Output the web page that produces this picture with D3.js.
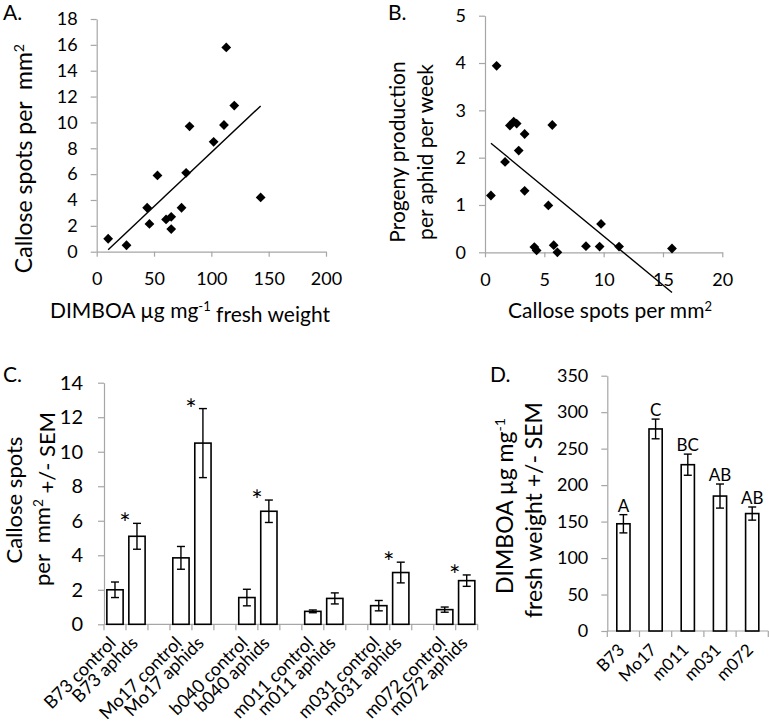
<!DOCTYPE html>
<html>
<head>
<meta charset="utf-8">
<script src="https://cdn.jsdelivr.net/npm/d3@7"></script>
<style>
body { margin: 0; background: #fff; }
text { font-family: Lato, "Open Sans", sans-serif; fill: #000; white-space: pre; }
</style>
</head>
<body>
<svg id="fig" width="769" height="724"></svg>
<script>
// A. DIMBOA vs callose spots
const dimboaA = [10, 26, 44, 46, 53, 60.5, 65, 65, 74, 78, 81, 102, 111, 113, 120, 143]
const calloseA = [1.0, 0.5, 3.4, 2.15, 5.9, 2.5, 2.7, 1.75, 3.4, 6.1, 9.7, 8.5, 9.8, 15.8, 11.3, 4.2]
const xTicksA = [0, 50, 100, 150, 200]
const yTicksA = [0, 2, 4, 6, 8, 10, 12, 14, 16, 18]

// B. callose spots vs progeny
const calloseB = [0.5, 0.98, 1.69, 2.1, 2.42, 2.67, 2.84, 3.34, 3.34, 4.16, 4.35, 5.34, 5.67, 5.79, 6.1, 8.51, 9.66, 9.78, 11.3, 15.76]
const progenyB = [1.2, 3.94, 1.91, 2.68, 2.76, 2.72, 2.15, 2.5, 1.3, 0.11, 0.04, 0.99, 2.69, 0.15, 0.0, 0.13, 0.12, 0.6, 0.12, 0.08]
const xTicksB = [0, 5, 10, 15, 20]
const yTicksB = [0, 1, 2, 3, 4, 5]

// C. callose spots per line / treatment ("" = gap between lines)
const catsC = ["B73 control", "B73 aphds", "", "Mo17 control", "Mo17 aphids", "", "b040 control", "b040 aphids", "",
               "m011 control", "m011 aphids", "", "m031 control", "m031 aphids", "", "m072 control", "m072 aphids"]
const meanC = [2.0, 5.1, null, 3.85, 10.5, null, 1.55, 6.55, null, 0.75, 1.5, null, 1.08, 3.0, null, 0.85, 2.53]
const semC  = [0.45, 0.75, null, 0.66, 2.0, null, 0.48, 0.65, null, 0.08, 0.32, null, 0.3, 0.6, null, 0.15, 0.33]
const sigC  = ["", "*", "", "", "*", "", "", "*", "", "", "", "", "", "*", "", "", "*"]
const yTicksC = [0, 2, 4, 6, 8, 10, 12, 14]

// D. DIMBOA per line
const catsD = ["B73", "Mo17", "m011", "m031", "m072"]
const meanD = [147, 277, 228, 185, 161]
const semD  = [12.5, 13.5, 14.5, 16.5, 9]
const groupD = ["A", "C", "BC", "AB", "AB"]
const yTicksD = [0, 50, 100, 150, 200, 250, 300, 350]

const svg = d3.select("#fig")
const axisGray = "#a6a6a6"
const fmt = d3.format("d")

function styleAxis(g, size) {
    g.selectAll("path.domain").attr("stroke", axisGray).attr("stroke-width", 1.2)
    g.selectAll(".tick line").attr("stroke", axisGray).attr("stroke-width", 1.2)
    g.selectAll(".tick text").attr("font-size", size).attr("font-family", null).attr("fill", "#000")
}

function drawScatter(xs, ys, cfg) {
    let x = d3.scaleLinear().domain(cfg.xDom).range(cfg.xRange)
    let y = d3.scaleLinear().domain(cfg.yDom).range(cfg.yRange)
    let g = svg.append("g")

    let xa = g.append("g").attr("transform", `translate(0,${cfg.yRange[0]})`)
        .call(d3.axisBottom(x).tickValues(cfg.xTicks).tickFormat(fmt).tickSize(5).tickPadding(16).tickSizeOuter(0))
    styleAxis(xa, 18)
    let ya = g.append("g").attr("transform", `translate(${cfg.xRange[0]},0)`)
        .call(d3.axisLeft(y).tickValues(cfg.yTicks).tickFormat(fmt).tickSize(6).tickPadding(13).tickSizeOuter(0))
    styleAxis(ya, 18)

    // least squares trend line over the data range
    const mx = d3.mean(xs), my = d3.mean(ys)
    const slope = d3.sum(xs, (d, i) => (d - mx) * (ys[i] - my)) / d3.sum(xs, d => (d - mx) * (d - mx))
    const fit = v => my + slope * (v - mx)
    const ext = d3.extent(xs)
    g.append("line")
        .attr("x1", x(ext[0])).attr("y1", y(fit(ext[0])))
        .attr("x2", x(ext[1])).attr("y2", y(fit(ext[1])))
        .attr("stroke", "#000").attr("stroke-width", 1.4)

    g.selectAll("path.pt").data(xs).join("path")
        .attr("class", "pt")
        .attr("d", d3.symbol(d3.symbolSquare, 48))
        .attr("transform", (d, i) => `translate(${x(d)},${y(ys[i])}) rotate(45)`)
        .attr("fill", "#000")
}

function drawBars(cats, means, sems, notes, cfg) {
    let x = d3.scaleBand().domain(d3.range(cats.length)).range(cfg.xRange)
    let y = d3.scaleLinear().domain(cfg.yDom).range(cfg.yRange)
    let g = svg.append("g")
    const y0 = cfg.yRange[0]
    const bw = x.bandwidth() * cfg.barFrac

    let ya = g.append("g").attr("transform", `translate(${cfg.xRange[0]},0)`)
        .call(d3.axisLeft(y).tickValues(cfg.yTicks).tickFormat(fmt).tickSize(6).tickPadding(cfg.tickPad).tickSizeOuter(0))
    styleAxis(ya, cfg.tickFont)

    // category axis: line + ticks between categories
    g.append("line").attr("x1", cfg.xRange[0]).attr("x2", cfg.xRange[1])
        .attr("y1", y0).attr("y2", y0).attr("stroke", axisGray).attr("stroke-width", 1.2)
    g.selectAll("line.ctick").data(d3.range(cats.length + 1)).join("line")
        .attr("class", "ctick")
        .attr("x1", i => cfg.xRange[0] + i * x.step()).attr("x2", i => cfg.xRange[0] + i * x.step())
        .attr("y1", y0).attr("y2", y0 + 6)
        .attr("stroke", axisGray).attr("stroke-width", 1.2)

    const idx = d3.range(cats.length).filter(i => means[i] != null)
    const cx = i => x(i) + x.bandwidth() / 2

    g.selectAll("rect.bar").data(idx).join("rect")
        .attr("class", "bar")
        .attr("x", i => cx(i) - bw / 2).attr("width", bw)
        .attr("y", i => y(means[i])).attr("height", i => y0 - y(means[i]))
        .attr("fill", "#fff").attr("stroke", "#000").attr("stroke-width", 1.6)

    // error bars
    const cap = 4
    idx.forEach(i => {
        const hi = y(means[i] + sems[i]), lo = y(means[i] - sems[i])
        g.append("line").attr("x1", cx(i)).attr("x2", cx(i)).attr("y1", hi).attr("y2", lo)
            .attr("stroke", "#000").attr("stroke-width", 1.4)
        g.append("line").attr("x1", cx(i) - cap).attr("x2", cx(i) + cap).attr("y1", hi).attr("y2", hi)
            .attr("stroke", "#000").attr("stroke-width", 1.4)
        g.append("line").attr("x1", cx(i) - cap).attr("x2", cx(i) + cap).attr("y1", lo).attr("y2", lo)
            .attr("stroke", "#000").attr("stroke-width", 1.4)
        if (notes[i]) {
            g.append("text").attr("x", cx(i) + cfg.noteDx).attr("y", hi + cfg.noteDy)
                .attr("text-anchor", "middle").attr("font-size", cfg.noteFont)
                .attr("font-family", cfg.noteFamily || null).text(notes[i])
        }
    })

    // rotated category labels
    g.selectAll("text.cat").data(d3.range(cats.length)).join("text")
        .attr("class", "cat")
        .attr("transform", i => `translate(${cx(i) + 2},${y0 + 20}) rotate(-45)`)
        .attr("text-anchor", "end")
        .attr("font-size", cfg.labFont)
        .text(i => cats[i])
}

drawScatter(dimboaA, calloseA, {
    xDom: [0, 200], yDom: [0, 18], xRange: [96.7, 326], yRange: [251.7, 19],
    xTicks: xTicksA, yTicks: yTicksA
})
drawScatter(calloseB, progenyB, {
    xDom: [0, 20], yDom: [0, 5], xRange: [485, 722.3], yRange: [252.3, 15.7],
    xTicks: xTicksB, yTicks: yTicksB
})
drawBars(catsC, meanC, semC, sigC, {
    yDom: [0, 14], xRange: [104, 477.7], yRange: [624.3, 382.7], yTicks: yTicksC,
    barFrac: 0.74, tickFont: 20, tickPad: 15, labFont: 18,
    noteDx: -12, noteDy: 10, noteFont: 27, noteFamily: "'DejaVu Sans', sans-serif"
})
drawBars(catsD, meanD, semD, groupD, {
    yDom: [0, 350], xRange: [607.3, 768.3], yRange: [631, 375.7], yTicks: yTicksD,
    barFrac: 0.41, tickFont: 18, tickPad: 13, labFont: 17, noteDx: 0, noteDy: -3, noteFont: 17
})

// titles
function sup(t, s) {
    t.append("tspan").attr("dy", "-0.55em").attr("font-size", "0.62em").text(s)
    return t
}

// panel letters
svg.append("text").attr("x", 3).attr("y", 20).attr("font-size", 21).text("A.")
svg.append("text").attr("x", 388).attr("y", 20).attr("font-size", 21).text("B.")
svg.append("text").attr("x", 3).attr("y", 382).attr("font-size", 21).text("C.")
svg.append("text").attr("x", 490).attr("y", 382).attr("font-size", 21).text("D.")

// A titles
let t = svg.append("text").attr("transform", "translate(31.5,158.5) rotate(-90)")
    .attr("text-anchor", "middle").attr("font-size", 23).text("Callose spots per  mm")
sup(t, "2")
t = svg.append("text").attr("x", 190).attr("y", 318).attr("text-anchor", "middle").attr("font-size", 21)
t.append("tspan").text("DIMBOA µg mg")
t.append("tspan").attr("dy", "-0.55em").attr("font-size", "0.62em").text("-1")
t.append("tspan").attr("dy", "0.55em").text(" fresh weight")

// B titles
svg.append("text").attr("transform", "translate(405,152) rotate(-90)")
    .attr("text-anchor", "middle").attr("font-size", 21).text("Progeny production")
svg.append("text").attr("transform", "translate(433,152) rotate(-90)")
    .attr("text-anchor", "middle").attr("font-size", 21).text("per aphid per week")
t = svg.append("text").attr("x", 610).attr("y", 318).attr("text-anchor", "middle").attr("font-size", 21)
    .text("Callose spots per mm")
sup(t, "2")

// C titles
svg.append("text").attr("transform", "translate(21.5,500) rotate(-90)")
    .attr("text-anchor", "middle").attr("font-size", 22).text("Callose spots")
t = svg.append("text").attr("transform", "translate(50,499) rotate(-90)")
    .attr("text-anchor", "middle").attr("font-size", 22)
t.append("tspan").text("per  mm")
t.append("tspan").attr("dy", "-0.55em").attr("font-size", "0.62em").text("2")
t.append("tspan").attr("dy", "0.55em").text(" +/- SEM")

// D titles
t = svg.append("text").attr("transform", "translate(513,506) rotate(-90)")
    .attr("text-anchor", "middle").attr("font-size", 23).text("DIMBOA µg mg")
sup(t, "-1")
svg.append("text").attr("transform", "translate(542,510) rotate(-90)")
    .attr("text-anchor", "middle").attr("font-size", 23).text("fresh weight +/- SEM")
</script>
</body>
</html>
